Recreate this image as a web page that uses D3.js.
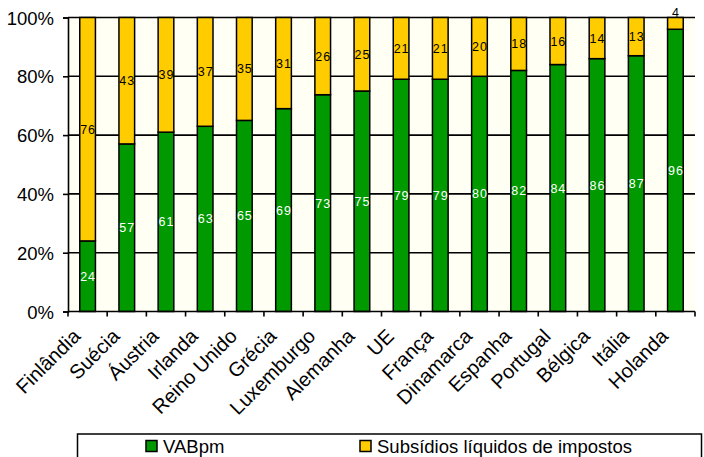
<!DOCTYPE html>
<html>
<head>
<meta charset="utf-8">
<script src="https://cdn.jsdelivr.net/npm/d3@7"></script>
<style>
  html, body { margin: 0; padding: 0; background: #ffffff; }
  svg { display: block; }
  svg text { font-family: "Liberation Sans", Arial, sans-serif; }
</style>
</head>
<body>
<svg id="chart" width="704" height="457"></svg>
<script>
const categories = ["Finlândia","Suécia","Áustria","Irlanda","Reino Unido","Grécia","Luxemburgo","Alemanha","UE","França","Dinamarca","Espanha","Portugal","Bélgica","Itália","Holanda"];
const vabpm = [24,57,61,63,65,69,73,75,79,79,80,82,84,86,87,96];
const subsidios = [76,43,39,37,35,31,26,25,21,21,20,18,16,14,13,4];
const seriesNames = ["VABpm","Subsídios líquidos de impostos"];
const yTicks = [0,0.2,0.4,0.6,0.8,1];

const colors = ["#009900","#ffcc00"];
const labelColors = ["#ffffff","#000000"];

const svg = d3.select("#chart");
const margin = {left: 68, right: 704 - 695, top: 17.5, bottom: 457 - 311.5};
const W = 704, H = 457;

const rows = categories.map((c,i) => ({cat: c, VABpm: vabpm[i], "Subsídios líquidos de impostos": subsidios[i]}));
const stack = d3.stack().keys(seriesNames).offset(d3.stackOffsetExpand);
const stacked = stack(rows);

const x = d3.scaleBand().domain(categories).range([margin.left, W - margin.right]).paddingInner(0.6).paddingOuter(0.3);
const xb = d3.scaleBand().domain(categories).range([margin.left, W - margin.right]);
const y = d3.scaleLinear().domain([0,1]).range([H - margin.bottom, margin.top]);

// plot background
svg.append("rect")
  .attr("x", margin.left).attr("y", margin.top)
  .attr("width", W - margin.right - margin.left).attr("height", y(0) - margin.top)
  .attr("fill", "#fffff4");

// gridlines
svg.append("g").selectAll("line").data(yTicks.filter(d => d > 0)).join("line")
  .attr("x1", margin.left).attr("x2", W - margin.right)
  .attr("y1", d => y(d)).attr("y2", d => y(d))
  .attr("stroke", "#000").attr("stroke-width", 1.6);

// bars
const layers = svg.append("g").selectAll("g").data(stacked).join("g")
  .attr("fill", (d,i) => colors[i]);
layers.selectAll("rect").data(d => d.map(v => ({v, key: d.key}))).join("rect")
  .attr("x", d => x(d.v.data.cat))
  .attr("width", x.bandwidth())
  .attr("y", d => y(d.v[1]))
  .attr("height", d => y(d.v[0]) - y(d.v[1]))
  .attr("stroke", "#000").attr("stroke-width", 1.5);

// data labels
const labelG = svg.append("g").attr("font-size", 12.5).attr("letter-spacing", 1).attr("text-anchor", "middle");
stacked.forEach((layer, si) => {
  const vals = si === 0 ? vabpm : subsidios;
  layer.forEach((v, i) => {
    const segH = y(v[0]) - y(v[1]);
    const small = segH < 14;
    labelG.append("text")
      .attr("x", x(v.data.cat) + x.bandwidth()/2 + 0.5)
      .attr("y", small ? y(v[1]) - 1 : (y(v[0]) + y(v[1]))/2 + 4.5)
      .attr("fill", small ? "#000" : labelColors[si])
      .text(vals[i]);
  });
});

// y axis
const yAxis = d3.axisLeft(y).tickValues(yTicks).tickFormat(d3.format(".0%")).tickSize(5).tickPadding(9);
const gy = svg.append("g").attr("transform", `translate(${margin.left},0)`).call(yAxis);
gy.attr("font-family", null).attr("font-size", null);
gy.selectAll("text").attr("font-size", 18.5).attr("fill", "#000").attr("dy", "0.36em");
gy.selectAll("line").attr("stroke", "#000").attr("stroke-width", 1.6);
gy.select(".domain").attr("stroke", "#000").attr("stroke-width", 1.6);

// x axis
const gx = svg.append("g").attr("transform", `translate(0,${y(0)})`);
gx.append("line").attr("x1", margin.left).attr("x2", W - margin.right).attr("y1", 0).attr("y2", 0)
  .attr("stroke", "#000").attr("stroke-width", 1.6);
const boundaries = categories.map(c => xb(c)).concat([W - margin.right]);
gx.selectAll("line.tk").data(boundaries).join("line").attr("class","tk")
  .attr("x1", d => d).attr("x2", d => d).attr("y1", 0).attr("y2", 5)
  .attr("stroke", "#000").attr("stroke-width", 1.6);
gx.selectAll("text").data(categories).join("text")
  .attr("transform", d => `translate(${xb(d) + xb.bandwidth()/2 - 6},${26}) rotate(-45)`)
  .attr("text-anchor", "end")
  .attr("font-size", 20)
  .attr("fill", "#000")
  .text(d => d);

// legend
const lg = svg.append("g");
lg.append("rect").attr("x", 77.5).attr("y", 434).attr("width", 624).attr("height", 40)
  .attr("fill", "#fff").attr("stroke", "#000").attr("stroke-width", 1.5);
const legendX = [146, 360];
seriesNames.forEach((s, i) => {
  lg.append("rect").attr("x", legendX[i]).attr("y", 440.5).attr("width", 11).attr("height", 11)
    .attr("fill", colors[i]).attr("stroke", "#000").attr("stroke-width", 1.5);
  lg.append("text").attr("x", legendX[i] + 17).attr("y", 452.5).attr("font-size", 18.5).attr("fill", "#000").text(s);
});
</script>
</body>
</html>
